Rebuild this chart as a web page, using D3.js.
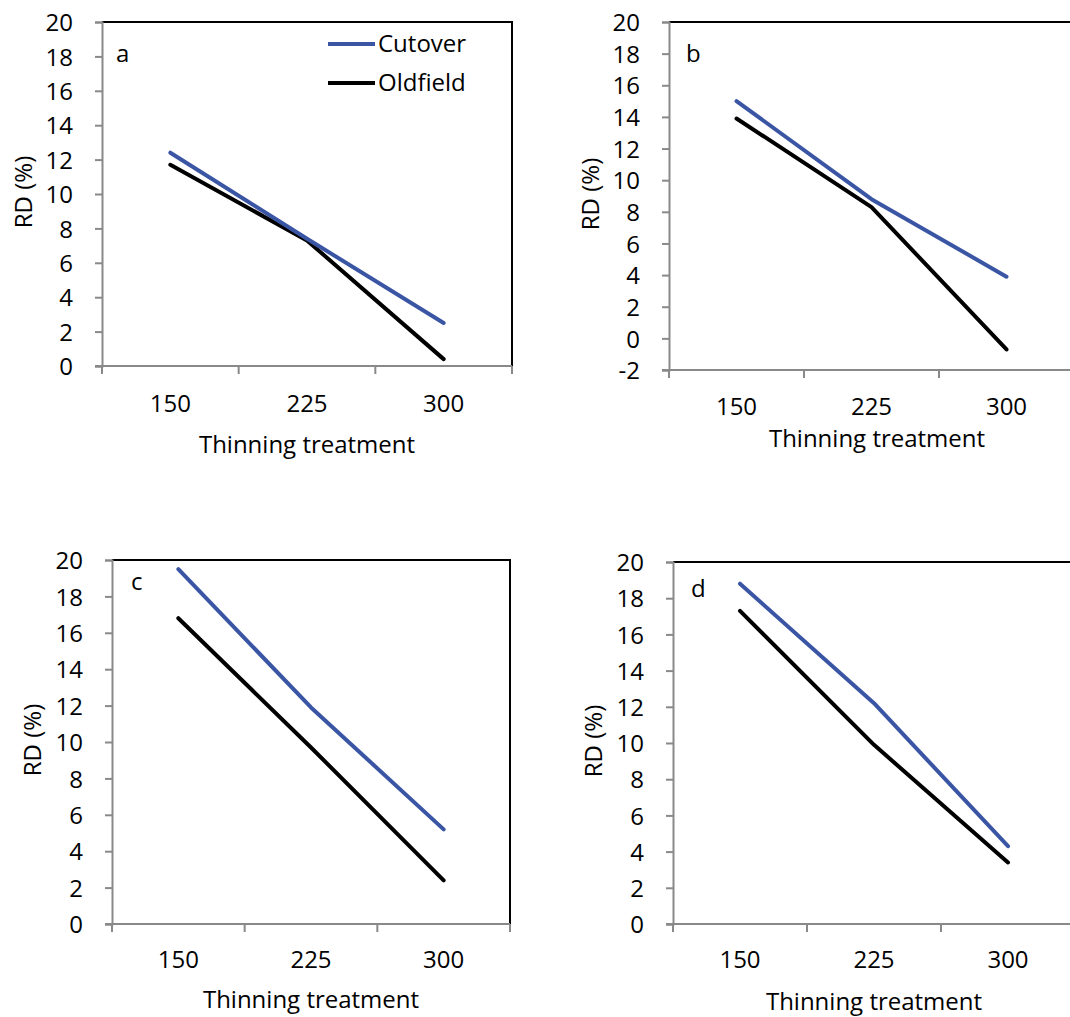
<!DOCTYPE html>
<html>
<head>
<meta charset="utf-8">
<script src="https://cdn.jsdelivr.net/npm/d3@7"></script>
<style>
  body { margin: 0; background: #fff; }
  svg { display: block; font-family: "Open Sans", sans-serif; }
</style>
</head>
<body>
<svg id="chart" width="1070" height="1017"></svg>
<script>
// thinning treatments (x categories)
const treatments = ['150', '225', '300'];
const seriesNames = ['Cutover', 'Oldfield'];

// RD (%)
const cutoverA = [12.4, 7.4, 2.5];
const oldfieldA = [11.7, 7.3, 0.4];
const cutoverB = [15.0, 8.8, 3.9];
const oldfieldB = [13.9, 8.3, -0.7];
const cutoverC = [19.5, 11.9, 5.2];
const oldfieldC = [16.8, 9.7, 2.4];
const cutoverD = [18.8, 12.2, 4.3];
const oldfieldD = [17.3, 9.9, 3.4];

const yTicksA = [0, 2, 4, 6, 8, 10, 12, 14, 16, 18, 20];
const yTicksB = [-2, 0, 2, 4, 6, 8, 10, 12, 14, 16, 18, 20];

const colors = {Cutover: '#3a55a4', Oldfield: '#000'};
const axisGray = '#898989';
const FS = 24;

const svg = d3.select('#chart');

// one panel per sub-figure, box coords are the plot area
const panels = [
  {letter: 'a', cut: cutoverA, old: oldfieldA, ticks: yTicksA, ymin: 0,
   left: 102, top: 22, right: 512, bottom: 366,
   letterX: 116, letterY: 62, ylabX: 24, xlabY: 412, titleX: 307, titleY: 453, legend: true},
  {letter: 'b', cut: cutoverB, old: oldfieldB, ticks: yTicksB, ymin: -2,
   left: 669, top: 22, right: 1074, bottom: 370,
   letterX: 686, letterY: 62, ylabX: 591, xlabY: 415, titleX: 877, titleY: 447},
  {letter: 'c', cut: cutoverC, old: oldfieldC, ticks: yTicksA, ymin: 0,
   left: 112, top: 560, right: 510, bottom: 924,
   letterX: 131, letterY: 590, ylabX: 33, xlabY: 968, titleX: 311, titleY: 1008},
  {letter: 'd', cut: cutoverD, old: oldfieldD, ticks: yTicksA, ymin: 0,
   left: 673, top: 562, right: 1075, bottom: 924,
   letterX: 691, letterY: 597, ylabX: 594, xlabY: 968, titleX: 874, titleY: 1010}
];

panels.forEach(drawPanel);

function drawPanel(p) {
  const x = d3.scaleBand().domain(treatments).range([p.left, p.right]);
  const y = d3.scaleLinear().domain([p.ymin, 20]).range([p.bottom, p.top]);
  const g = svg.append('g');

  // black frame on top and right
  g.append('path')
    .attr('d', `M${p.left},${p.top}H${p.right}V${p.bottom}`)
    .attr('fill', 'none').attr('stroke', '#000').attr('stroke-width', 2);

  // y axis, hyphen for negatives like the original
  const yAxis = g.append('g')
    .attr('transform', `translate(${p.left},0)`)
    .call(d3.axisLeft(y).tickValues(p.ticks).tickSize(7).tickPadding(22)
      .tickFormat(function(d) { return String(d); }));
  yAxis.select('.domain').attr('stroke', axisGray).attr('stroke-width', 2);
  yAxis.selectAll('.tick line').attr('stroke', axisGray).attr('stroke-width', 2);
  yAxis.selectAll('.tick text')
    .attr('fill', '#000').attr('font-size', FS).attr('font-family', '"Open Sans", sans-serif')
    .attr('dy', '0.36em');

  // x axis along the bottom: ticks on band edges, labels centered
  const edges = treatments.map(function(d) { return x(d); }).concat([p.right]);
  g.append('line')
    .attr('x1', p.left - 7).attr('x2', p.right)
    .attr('y1', p.bottom).attr('y2', p.bottom)
    .attr('stroke', axisGray).attr('stroke-width', 2);
  g.selectAll('.xt').data(edges).enter().append('line')
    .attr('x1', function(d) { return d; }).attr('x2', function(d) { return d; })
    .attr('y1', p.bottom).attr('y2', p.bottom + 8)
    .attr('stroke', axisGray).attr('stroke-width', 2);
  g.selectAll('.xl').data(treatments).enter().append('text')
    .attr('x', function(d) { return x(d) + x.bandwidth() / 2; })
    .attr('y', p.xlabY)
    .attr('text-anchor', 'middle').attr('font-size', FS)
    .text(function(d) { return d; });

  // titles
  g.append('text')
    .attr('x', p.titleX).attr('y', p.titleY)
    .attr('text-anchor', 'middle').attr('font-size', FS)
    .text('Thinning treatment');
  g.append('text')
    .attr('transform', `translate(${p.ylabX},${(p.top + p.bottom) / 2 - 2}) rotate(-90)`)
    .attr('text-anchor', 'middle').attr('dy', '0.35em').attr('font-size', FS)
    .text('RD (%)');
  g.append('text')
    .attr('x', p.letterX).attr('y', p.letterY).attr('font-size', FS)
    .text(p.letter);

  // series lines
  const line = d3.line()
    .x(function(d, i) { return x(treatments[i]) + x.bandwidth() / 2; })
    .y(function(d) { return y(d); });
  [['Oldfield', p.old], ['Cutover', p.cut]].forEach(function(s) {
    g.append('path')
      .attr('d', line(s[1]))
      .attr('fill', 'none').attr('stroke', colors[s[0]])
      .attr('stroke-width', 4).attr('stroke-linecap', 'round').attr('stroke-linejoin', 'round');
  });

  if (p.legend) {
    const lg = g.selectAll('.lg').data(seriesNames).enter().append('g')
      .attr('transform', function(d, i) { return `translate(328,${44 + i * 39})`; });
    lg.append('line').attr('x1', 0).attr('x2', 47)
      .attr('stroke', function(d) { return colors[d]; }).attr('stroke-width', 4);
    lg.append('text').attr('x', 50).attr('dy', '0.35em').attr('font-size', FS)
      .text(function(d) { return d; });
  }
}
</script>
</body>
</html>
